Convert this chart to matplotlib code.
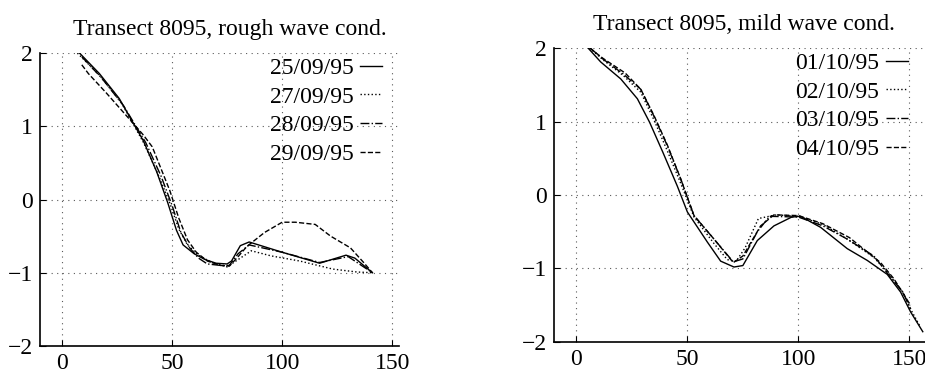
import matplotlib
matplotlib.use("Agg")
import matplotlib.pyplot as plt

plt.rcParams["font.family"] = ["Liberation Serif", "DejaVu Serif"]

# --- rough wave conditions (transect 8095) ---
rough_labels = ["25/09/95", "27/09/95", "28/09/95", "29/09/95"]

r1_x = [8, 17, 26, 37, 43, 48, 52, 55, 60, 65, 70, 75, 77, 81, 85, 100, 117, 129, 133, 141]
r1_y = [2.0, 1.72, 1.38, 0.80, 0.38, -0.04, -0.42, -0.62, -0.74, -0.82, -0.87, -0.88, -0.84,
        -0.63, -0.58, -0.72, -0.87, -0.76, -0.80, -1.0]

r2_x = [7, 17, 27, 37, 44, 49, 53, 57, 62, 68, 75, 80, 86, 95, 108, 123, 134, 141]
r2_y = [2.0, 1.70, 1.32, 0.78, 0.32, -0.05, -0.40, -0.62, -0.76, -0.86, -0.92, -0.82, -0.70,
        -0.77, -0.84, -0.95, -0.99, -1.0]

r3_x = [9, 18, 28, 38, 45, 50, 54, 58, 62, 66, 72, 76, 80, 85, 100, 117, 130, 141]
r3_y = [1.95, 1.66, 1.28, 0.78, 0.32, -0.08, -0.45, -0.66, -0.80, -0.88, -0.90, -0.90, -0.74,
        -0.62, -0.72, -0.86, -0.78, -1.0]

r4_x = [9, 12, 20, 30, 37, 41, 45, 49, 53, 57, 61, 66, 72, 76, 80, 84, 92, 100, 106, 115,
        122, 131, 137, 141]
r4_y = [1.84, 1.72, 1.46, 1.12, 0.88, 0.72, 0.42, 0.12, -0.25, -0.55, -0.72, -0.84, -0.90,
        -0.91, -0.78, -0.64, -0.45, -0.31, -0.31, -0.34, -0.50, -0.66, -0.86, -1.0]

# --- mild wave conditions ---
mild_labels = ["01/10/95", "02/10/95", "03/10/95", "04/10/95"]

m1_x = [5, 11, 20, 27.5, 33, 39, 45.5, 50, 59, 65, 71, 75, 81.5, 89, 97, 101, 110, 122, 131,
        140, 146, 150.5, 156]
m1_y = [2.01, 1.81, 1.58, 1.31, 0.99, 0.58, 0.12, -0.23, -0.64, -0.90, -0.98, -0.96, -0.62,
        -0.42, -0.30, -0.29, -0.44, -0.73, -0.89, -1.08, -1.32, -1.59, -1.86]

m2_x = [6, 12, 21, 29, 35, 41, 47, 53, 62, 68, 72, 76, 82, 90, 100, 111, 122, 134, 141, 147,
        151, 155]
m2_y = [2.0, 1.84, 1.63, 1.40, 1.02, 0.60, 0.16, -0.30, -0.66, -0.88, -0.90, -0.72, -0.32,
        -0.27, -0.29, -0.40, -0.60, -0.85, -1.08, -1.32, -1.58, -1.8]

m3_x = [6.3, 12, 21, 29, 35, 41, 47, 53, 62, 70.7, 75, 81.5, 87, 100, 111, 122, 134, 141,
        147, 150.5]
m3_y = [2.0, 1.85, 1.65, 1.44, 1.07, 0.67, 0.22, -0.28, -0.60, -0.91, -0.87, -0.50, -0.29,
        -0.30, -0.42, -0.60, -0.83, -1.1, -1.32, -1.55]

m4_x = [6, 12, 22, 29, 35, 41, 47, 53, 62, 70.7, 75, 83, 89, 100, 111, 123, 137, 143, 150.5]
m4_y = [2.0, 1.86, 1.66, 1.44, 1.08, 0.68, 0.22, -0.28, -0.60, -0.92, -0.83, -0.42, -0.27,
        -0.28, -0.39, -0.58, -0.92, -1.14, -1.5]

styles = ["-", ":", "-.", "--"]
x_ticks = [0, 50, 100, 150]
y_ticks = [-2, -1, 0, 1, 2]


def style_axes(ax, xmax, title, title_x):
    ax.set_xlim(-10, xmax)
    ax.set_ylim(-2, 2)
    ax.set_xticks(x_ticks)
    ax.set_yticks(y_ticks)
    ax.grid(True, color="0.35", linestyle=(0, (1, 4)), linewidth=0.8)
    for side in ["top", "right"]:
        ax.spines[side].set_visible(False)
    ax.spines["left"].set_linewidth(1.2)
    ax.spines["bottom"].set_linewidth(1.2)
    ax.tick_params(direction="in", length=4, labelsize=17, pad=5)
    ax.set_title(title, fontsize=17, pad=13, x=title_x)
    ax.legend(loc="upper right", bbox_to_anchor=(0.985, 1.025), frameon=False,
              markerfirst=False, fontsize=17, handlelength=0.9, handletextpad=0.3,
              labelspacing=0.3, borderpad=0.0)


fig = plt.figure(figsize=(9.25, 3.74), dpi=100)
ax1 = fig.add_axes([0.0432, 0.075, 0.388, 0.783])
ax2 = fig.add_axes([0.599, 0.0856, 0.401, 0.786])

for xs, ys, ls, lab in zip([r1_x, r2_x, r3_x, r4_x], [r1_y, r2_y, r3_y, r4_y], styles, rough_labels):
    ax1.plot(xs, ys, ls, color="black", linewidth=1.0, label=lab)
style_axes(ax1, 153, "Transect 8095, rough wave cond.", 0.53)

for xs, ys, ls, lab in zip([m1_x, m2_x, m3_x, m4_x], [m1_y, m2_y, m3_y, m4_y], styles, mild_labels):
    ax2.plot(xs, ys, ls, color="black", linewidth=1.0, label=lab)
style_axes(ax2, 157, "Transect 8095, mild wave cond.", 0.513)

fig.savefig("out.png", dpi=100)
plt.close(fig)
